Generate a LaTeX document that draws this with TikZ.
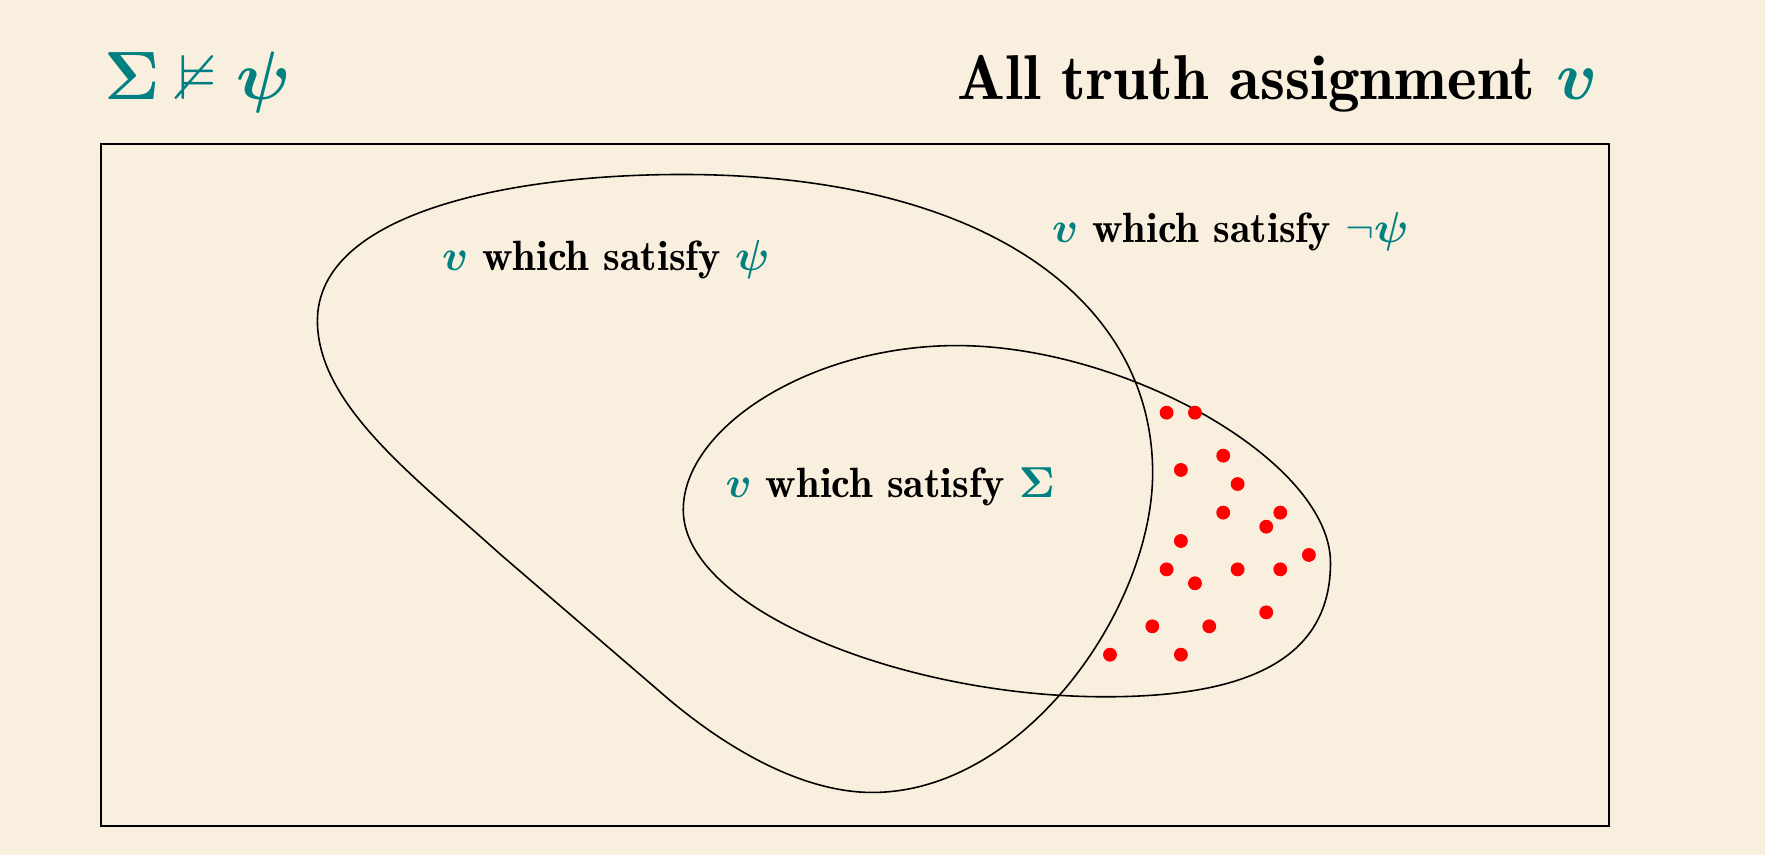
\documentclass[tikz,border=0pt]{standalone}
\usepackage{amsmath,amssymb}
\usetikzlibrary{positioning}
\definecolor{paper}{RGB}{248,239,222}
\definecolor{tealc}{RGB}{0,128,128}
\newcommand{\tv}{\textcolor{tealc}{$\boldsymbol{v}$}}

\begin{document}
\begin{tikzpicture}[x=0.01cm,y=-0.01cm]
      \tikzstyle{lbl}=[font=\fontsize{10.7}{13}\fontseries{b}\selectfont,inner sep=0pt,anchor=base west]
      \tikzstyle{head}=[font=\fontsize{16}{19}\fontseries{b}\selectfont,inner sep=0pt,anchor=base west]
      \fill[paper] (0,0) rectangle (1568,760);

      \node[draw,line width=0.5pt,anchor=north west,minimum width=13.39cm,minimum height=6.06cm,inner sep=0pt] (all) at (89,127) {};
      \node[head] (nsat) at (92,88) {\color{tealc}$\boldsymbol{\Sigma}\nvDash\boldsymbol{\psi}$};
      \node[head] (title) at (850,88) {All truth assignment \tv};

      % v which satisfy psi
      \draw (606,155) .. controls (880,155) and (1024,270) .. (1024,420)
        .. controls (1024,540) and (910,704) .. (775,704)
        .. controls (715,704) and (650,668) .. (595,622) -- (444,492)
        .. controls (370,425) and (282,360) .. (282,285)
        .. controls (282,190) and (450,155) .. cycle;
      % v which satisfy Sigma
      \draw (607,453) .. controls (607,380) and (720,307) .. (850,307)
        .. controls (1000,307) and (1182,410) .. (1182,500)
        .. controls (1182,590) and (1100,619) .. (982,619)
        .. controls (800,619) and (607,540) .. cycle;

      \node[lbl] (psi) at (392,240) {\tv\ which satisfy \textcolor{tealc}{$\boldsymbol{\psi}$}};
      \node[lbl] (npsi) at (934,215) {\tv\ which satisfy \textcolor{tealc}{$\neg\boldsymbol{\psi}$}};
      \node[lbl] (sig) at (644,442) {\tv\ which satisfy \textcolor{tealc}{$\boldsymbol{\Sigma}$}};

      \foreach \x/\y in {1036.4/366.6,1061.6/366.6,1086.7/404.8,1049.1/417.5,1099.5/430,
        1086.7/455.4,1137.4/455.4,1124.9/467.9,1049.1/480.6,1162.8/493,1036.4/505.8,
        1099.5/505.8,1137.4/505.8,1061.6/518.2,1124.9/544,1023.7/556.4,1074.3/556.4,
        986.1/581.6,1049.1/581.6}
        \fill[red] (\x,\y) circle (1.75pt);
\end{tikzpicture}
\end{document}
